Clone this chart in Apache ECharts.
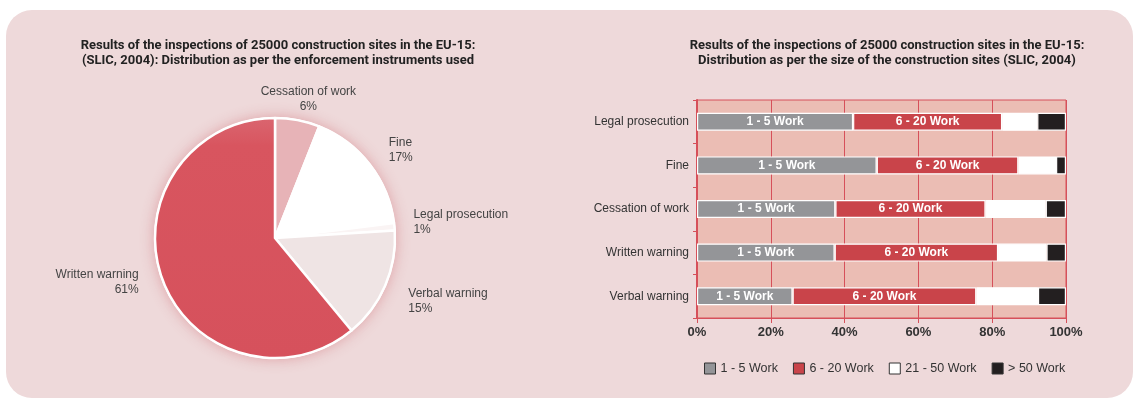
<!DOCTYPE html>
<html>
<head>
<meta charset="utf-8">
<script src="https://cdn.jsdelivr.net/npm/echarts@6/dist/echarts.min.js"></script>
<style>
  html, body { margin: 0; padding: 0; background: #fff; }
  #chart { width: 1135px; height: 400px; }
</style>
</head>
<body>
<div id="chart"></div>
<script>
// pie: enforcement instruments (%)
var pieNames = ['Cessation of work', 'Fine', 'Legal prosecution', 'Verbal warning', 'Written warning'];
var pieValues = [6, 17, 1, 15, 61];

// bars: size of construction sites (% share per instrument)
var barCategories = ['Legal prosecution', 'Fine', 'Cessation of work', 'Written warning', 'Verbal warning'];
var sizeClasses = ['1 - 5 Work', '6 - 20 Work', '21 - 50 Work', '> 50 Work'];
var work1to5 = [42.3, 48.7, 37.5, 37.3, 25.9];
var work6to20 = [40.4, 38.4, 40.7, 44.3, 49.8];
var work21to50 = [9.5, 10.2, 16.3, 13.1, 16.7];
var workOver50 = [7.8, 2.7, 5.5, 5.3, 7.6];
var xTicks = [0, 20, 40, 60, 80, 100];

var chart = echarts.init(document.getElementById('chart'));

var pieColors = ['#e7b3b7', '#ffffff', '#faf4f4', '#efe4e4',
    new echarts.graphic.LinearGradient(0, 0, 0, 1, [
        {offset: 0, color: '#da6670'},
        {offset: 0.12, color: '#d8555f'},
        {offset: 1, color: '#d6515c'}
    ])];
var barColors = ['#949598', '#c9444a', '#ffffff', '#231f20'];
var red = '#d6505a';

// tweaks for pie label placement
var labelShift = [
    {dx: 4, dy: -11, align: 'center'},
    {dx: 6, dy: -8},
    {dx: 4, dy: -4},
    {dx: 9, dy: 12},
    {dx: -9, dy: 0}
];

var stack = [work1to5, work6to20, work21to50, workOver50];
var total = pieValues.reduce(function (a, b) { return a + b; }, 0);

var titleStyle = {fontFamily: 'Roboto', fontSize: 13, fontWeight: 'bold', color: '#222', lineHeight: 15};

chart.setOption({
    textStyle: {fontFamily: 'Liberation Sans'},
    graphic: [{
        type: 'rect',
        z: -10,
        shape: {x: 6, y: 10, width: 1127, height: 388, r: 26},
        style: {fill: '#eed9da'}
    }],
    title: [{
        text: 'Results of the inspections of 25000 construction sites in the EU-15:\n(SLIC, 2004): Distribution as per the enforcement instruments used',
        left: 273,
        top: 33,
        textAlign: 'center',
        textStyle: titleStyle
    }, {
        text: 'Results of the inspections of 25000 construction sites in the EU-15:\nDistribution as per the size of the construction sites (SLIC, 2004)',
        left: 882,
        top: 33,
        textAlign: 'center',
        textStyle: titleStyle
    }],
    legend: {
        data: sizeClasses,
        left: 699,
        top: 357,
        itemWidth: 11,
        itemHeight: 11,
        itemGap: 15,
        icon: 'rect',
        textStyle: {fontSize: 12.5, color: '#333'},
        itemStyle: {borderColor: '#333', borderWidth: 1}
    },
    grid: {
        left: 697, right: 69, top: 100, bottom: 82,
        show: true,
        backgroundColor: '#ebbdb4',
        borderColor: red,
        borderWidth: 1
    },
    xAxis: {
        type: 'value',
        min: 0, max: 100, interval: 20,
        axisLine: {show: true, lineStyle: {color: red}},
        axisTick: {show: true, length: 5, lineStyle: {color: red}},
        splitLine: {show: true, lineStyle: {color: red, width: 1}},
        axisLabel: {
            formatter: function (v) { return xTicks.indexOf(v) >= 0 ? v + '%' : ''; },
            color: '#333', fontSize: 13, fontWeight: 'bold', margin: 8
        }
    },
    yAxis: {
        type: 'category',
        data: barCategories,
        inverse: true,
        axisLine: {show: true, lineStyle: {color: red, width: 2}},
        axisTick: {show: true, length: 4, lineStyle: {color: red}},
        axisLabel: {color: '#333', fontSize: 12, margin: 8},
        splitLine: {show: false}
    },
    series: [{
        // soft glow under the pie
        type: 'pie',
        center: [275, 238],
        radius: 121,
        silent: true,
        z: 1,
        label: {show: false},
        labelLine: {show: false},
        data: [{value: total, name: '', itemStyle: {
            color: '#fff',
            shadowBlur: 14,
            shadowColor: 'rgba(205,90,100,0.45)'
        }}],
        legendHoverLink: false
    }, {
        type: 'pie',
        center: [275, 238],
        radius: 120,
        startAngle: 90,
        clockwise: true,
        silent: true,
        z: 2,
        data: pieNames.map(function (n, i) {
            return {name: n, value: pieValues[i], itemStyle: {color: pieColors[i]}};
        }),
        itemStyle: {
            borderColor: '#fff',
            borderWidth: 2.5
        },
        label: {
            show: true,
            position: 'outside',
            formatter: '{b}\n{c}%',
            color: '#444',
            fontSize: 12,
            lineHeight: 15,
            distanceToLabelLine: 5
        },
        labelLine: {show: false, length: 10, length2: 0},
        labelLayout: function (p) {
            var s = labelShift[p.dataIndex];
            return {dx: s.dx, dy: s.dy, align: s.align};
        }
    }].concat(stack.map(function (vals, i) {
        return {
            type: 'bar',
            name: sizeClasses[i],
            stack: 'size',
            data: vals,
            barWidth: 18,
            itemStyle: {color: barColors[i], borderColor: '#fff', borderWidth: 1.2},
            label: {
                show: i < 2,
                position: 'inside',
                formatter: sizeClasses[i],
                color: '#fff',
                fontSize: 12,
                fontWeight: 'bold'
            }
        };
    }))
});
</script>
</body>
</html>
